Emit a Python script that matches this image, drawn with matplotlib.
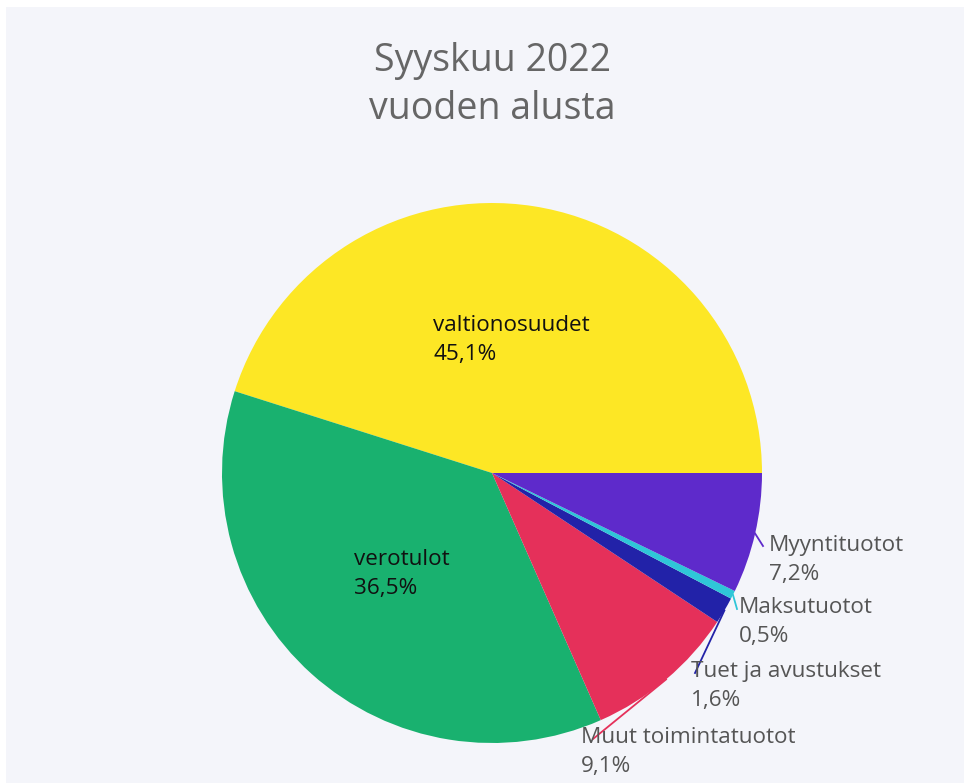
import numpy as np
import matplotlib
matplotlib.use("Agg")
import matplotlib.pyplot as plt
from matplotlib.patches import Rectangle

# data
labels = ["valtionosuudet", "verotulot", "Muut toimintatuotot",
          "Tuet ja avustukset", "Maksutuotot", "Myyntituotot"]
shares = [45.1, 36.5, 9.1, 1.6, 0.5, 7.2]
colors = ["#FDE725", "#19B16F", "#E5305A", "#2222A8", "#2FC6D8", "#5E2ACB"]
title_lines = ["Syyskuu 2022", "vuoden alusta"]

plt.rcParams["font.family"] = ["Open Sans", "DejaVu Sans"]

W, H = 964, 783
fig = plt.figure(figsize=(W / 100, H / 100), dpi=100, facecolor="white")
ax = fig.add_axes([0, 0, 1, 1])

bg = "#F4F5FA"
ax.add_patch(Rectangle((6, 0), W - 6, H - 7, facecolor=bg, edgecolor="none", zorder=0))

cx, cy, r = 492, H - 473, 270
wedges, _ = ax.pie(shares, colors=colors, startangle=0, counterclock=True,
                   center=(cx, cy), radius=r, frame=True,
                   wedgeprops=dict(linewidth=0))
ax.set_xlim(0, W)
ax.set_ylim(0, H)
ax.axis("off")

def fmt(v):
    return f"{v:.1f}".replace(".", ",") + "%"

# labels inside the two big slices
inside = {0: (433, 340), 1: (354, 574)}
for i, (x, y) in inside.items():
    ax.text(x, H - y, f"{labels[i]}\n{fmt(shares[i])}", fontsize=16.2,
            color="#111111", ha="left", va="center", linespacing=1.45, zorder=5)

# outside labels with leader lines
outside = {5: ((763, 546), (769, 560)),
           4: ((737, 609), (739, 622)),
           3: ((695, 673), (691, 686)),
           2: ((593, 739), (581, 752))}
cum = np.cumsum([0] + shares)
for i, ((lx, ly), (tx, ty)) in outside.items():
    mid = np.deg2rad((cum[i] + cum[i + 1]) / 2 * 3.6)
    sx, sy = cx + r * np.cos(mid), cy + r * np.sin(mid)
    ax.plot([sx, lx], [sy, H - ly], color=colors[i], lw=1.3, zorder=4)
    ax.text(tx, H - ty, f"{labels[i]}\n{fmt(shares[i])}", fontsize=16.2,
            color="#555555", ha="left", va="center", linespacing=1.45, zorder=5)

ax.text(492, H - 85, "\n".join(title_lines), fontsize=27, color="#666666",
        ha="center", va="center", linespacing=1.36)

fig.savefig("out.png", dpi=100, facecolor="white")
